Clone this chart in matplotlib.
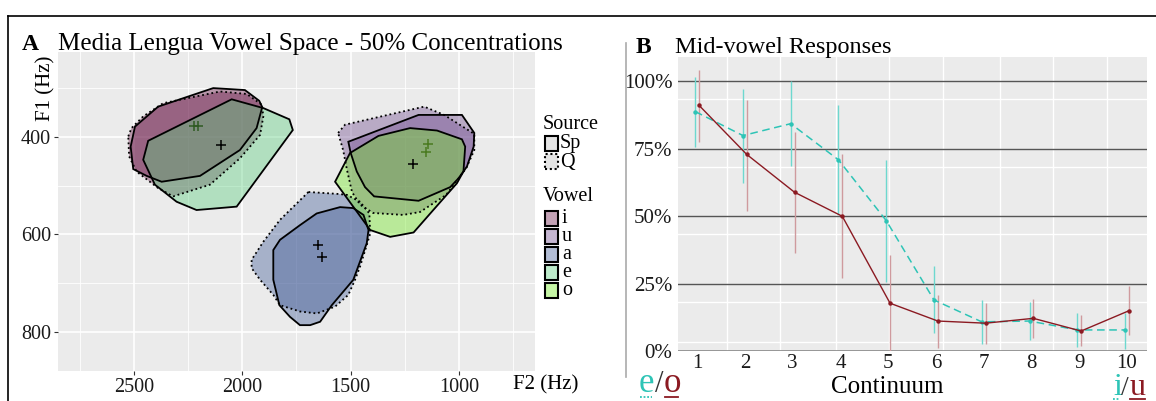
import numpy as np
import matplotlib.pyplot as plt
from matplotlib.patches import Polygon, Rectangle
from matplotlib.lines import Line2D

plt.rcParams['font.family'] = ['Liberation Serif', 'DejaVu Serif']

W, H = 1156, 401

# ---- panel A: vowel space polygons (F2, F1 in Hz) ----
i_sp_f2 = [2388, 2134, 1988, 1922, 1908, 1934, 2011, 2195, 2372, 2441, 2503, 2515, 2495]
i_sp_f1 = [338, 300, 304, 326, 339, 382, 427, 480, 492, 480, 466, 420, 379]
i_q_f2 = [2526, 2511, 2457, 2365, 2103, 1980, 1910, 1903, 1918, 2011, 2149, 2319, 2388, 2488, 2522]
i_q_f1 = [399, 382, 358, 331, 307, 312, 334, 358, 396, 444, 498, 522, 505, 471, 440]
e_sp_f2 = [2434, 2049, 1903, 1783, 1767, 2026, 2211, 2303, 2403, 2457]
e_sp_f1 = [408, 323, 341, 364, 386, 543, 550, 533, 498, 447]
u_sp_f2 = [1511, 1187, 987, 930, 933, 964, 1003, 1041, 1187, 1392, 1434, 1472, 1500]
u_sp_f1 = [410, 355, 355, 392, 420, 461, 485, 503, 531, 522, 503, 471, 433]
u_q_f2 = [1558, 1526, 1161, 1069, 930, 930, 967, 1060, 1180, 1258, 1397, 1457, 1494, 1517, 1535]
u_q_f1 = [392, 375, 338, 355, 394, 427, 464, 519, 554, 560, 556, 539, 513, 468, 427]
o_sp_f2 = [1503, 1372, 1226, 1102, 987, 972, 980, 1010, 1133, 1210, 1318, 1410, 1572]
o_sp_f1 = [433, 398, 382, 387, 405, 420, 471, 495, 557, 596, 605, 591, 492]
a_q_f2 = [1695, 1558, 1517, 1457, 1414, 1410, 1426, 1457, 1480, 1511, 1572, 1656, 1734,
          1826, 1857, 1918, 1957, 1957, 1903, 1826]
a_q_f1 = [513, 517, 519, 533, 557, 598, 622, 666, 693, 724, 748, 762, 758,
          745, 724, 693, 669, 652, 615, 570]
a_sp_f2 = [1657, 1549, 1488, 1441, 1418, 1426, 1488, 1587, 1641, 1687, 1734, 1780, 1829,
           1857, 1857, 1826, 1734]
a_sp_f1 = [557, 544, 546, 560, 591, 618, 693, 745, 779, 786, 786, 769, 745,
           693, 632, 611, 581]

# vowel means
mean_f2 = [2223, 2205, 2098, 1143, 1152, 1212, 1650, 1632]
mean_f1 = [377, 377, 416, 414, 431, 455, 622, 646]
mean_col = ['#2f5a22', '#2f5a22', 'black', '#4a7a20', '#4a7a20', 'black', 'black', 'black']

vowels = ['i', 'u', 'a', 'e', 'o']
vowel_cols = {'i': '#6a1848', 'u': '#6e4a8e', 'a': '#405a96', 'e': '#5ccf7f', 'o': '#6ee61e'}

# ---- panel B: mid-vowel responses ----
cont = np.arange(1, 11)
front_m = [0.887, 0.798, 0.842, 0.708, 0.483, 0.189, 0.108, 0.111, 0.078, 0.078]
front_lo = [0.757, 0.621, 0.687, 0.507, 0.256, 0.066, 0.025, 0.040, 0.015, 0.006]
front_hi = [1.015, 0.972, 1.0, 0.91, 0.708, 0.316, 0.188, 0.182, 0.139, 0.142]
back_m = [0.910, 0.728, 0.588, 0.499, 0.177, 0.111, 0.103, 0.121, 0.074, 0.149]
back_lo = [0.773, 0.52, 0.363, 0.269, 0.0, 0.01, 0.025, 0.05, 0.019, 0.058]
back_hi = [1.04, 0.928, 0.813, 0.728, 0.355, 0.208, 0.179, 0.192, 0.134, 0.239]
pct_ticks = [0, 0.25, 0.5, 0.75, 1.0]
pct_labels = ['0%', '25%', '50%', '75%', '100%']

teal = '#2ec4b6'
red = '#8b1a22'


def fx(px):
    return px / W


def fy(py):
    return 1 - py / H


fig = plt.figure(figsize=(W / 100, H / 100), dpi=100)

# frame lines of the figure
fig.add_artist(Line2D([fx(7.5), 1], [fy(15.5), fy(15.5)], color='black', lw=1.2))
fig.add_artist(Line2D([fx(7.5), fx(7.5)], [fy(15.5), 0], color='black', lw=1.2))

# ================= panel A =================
axA = fig.add_axes([fx(58), fy(371), fx(535) - fx(58), fy(52) - fy(371)])
axA.set_facecolor('#ebebeb')
axA.set_xlim(2850, 650)
axA.set_ylim(880, 226)
for v in [2750, 2250, 1750, 1250, 750]:
    axA.axvline(v, color='white', lw=0.6, zorder=0)
for v in [300, 500, 700]:
    axA.axhline(v, color='white', lw=0.6, zorder=0)
for v in [2500, 2000, 1500, 1000]:
    axA.axvline(v, color='white', lw=1.2, zorder=0)
for v in [400, 600, 800]:
    axA.axhline(v, color='white', lw=1.2, zorder=0)

polys = [
    ('i', 'Sp', i_sp_f2, i_sp_f1),
    ('i', 'Q', i_q_f2, i_q_f1),
    ('u', 'Sp', u_sp_f2, u_sp_f1),
    ('u', 'Q', u_q_f2, u_q_f1),
    ('a', 'Q', a_q_f2, a_q_f1),
    ('a', 'Sp', a_sp_f2, a_sp_f1),
    ('e', 'Sp', e_sp_f2, e_sp_f1),
    ('o', 'Sp', o_sp_f2, o_sp_f1),
]
for vw, src, xs, ys in polys:
    ls = '-' if src == 'Sp' else (0, (1, 1.6))
    axA.add_patch(Polygon(np.column_stack([xs, ys]), closed=True,
                          facecolor=vowel_cols[vw], alpha=0.4, edgecolor='none', zorder=2))
    axA.add_patch(Polygon(np.column_stack([xs, ys]), closed=True, fill=False,
                          edgecolor='black', lw=1.3, linestyle=ls, zorder=3))

axA.scatter(mean_f2, mean_f1, marker='+', s=55, c=mean_col, linewidths=1.1, zorder=4)

axA.set_xticks([2500, 2000, 1500, 1000])
axA.set_yticks([400, 600, 800])
axA.tick_params(labelsize=14.5, length=3, width=0.8, color='#333333',
                labelcolor='#1a1a1a', pad=2)
for s in axA.spines.values():
    s.set_visible(False)

fig.text(fx(22), fy(50), 'A', fontsize=17, fontweight='bold', va='baseline')
fig.text(fx(58), fy(50), 'Media Lengua Vowel Space - 50% Concentrations', fontsize=18,
         va='baseline')
fig.text(fx(46), fy(56), 'F1 (Hz)', fontsize=15, rotation=90, ha='center', va='top')
fig.text(fx(578), fy(389), 'F2 (Hz)', fontsize=15, ha='right', va='baseline')

# legend of panel A
def key(py, face, ls):
    fig.add_artist(Rectangle((fx(545), fy(py + 8)), fx(13), 15 / H, facecolor=face,
                             edgecolor='black', lw=1.5, linestyle=ls))

fig.text(fx(543), fy(129), 'Source', fontsize=14.5, va='baseline')
key(143, '#e4e4e4', '-')
fig.text(fx(560), fy(148), 'Sp', fontsize=14.5, va='baseline')
key(161, '#e4e4e4', (0, (1, 1.3)))
fig.text(fx(560), fy(167), 'Q', fontsize=14.5, va='baseline')
fig.text(fx(543), fy(201), 'Vowel', fontsize=14.5, va='baseline')
for k, vw in enumerate(vowels):
    py = 218 + k * 18
    fc = plt.matplotlib.colors.to_rgba(vowel_cols[vw], 0.4)
    key(py, fc, '-')
    fig.text(fx(562), fy(py + 5), vw, fontsize=14.5, va='baseline')

# ================= panel B =================
axB = fig.add_axes([fx(678), fy(351), fx(1147) - fx(678), fy(57) - fy(351)])
axB.set_facecolor('#ebebeb')
axB.set_xlim(0.6, 10.42)
axB.set_ylim(0, 1.089)
for v in [1.63, 2.74, 3.9, 5.02, 6.15, 7.34, 8.45, 9.58]:
    axB.axvline(v, color='white', lw=1.0, zorder=0)
for v in [0.035, 0.181, 0.433, 0.681, 0.933]:
    axB.axhline(v, color='white', lw=1.0, zorder=0)
for v in pct_ticks[1:]:
    axB.axhline(v, color='#555555', lw=1.0, zorder=1)
axB.axhline(0, color='#888888', lw=1.2, zorder=1)

xf = cont - 0.04
xb = cont + 0.04
axB.vlines(xf, front_lo, front_hi, color='#6dd8cf', lw=1.0, zorder=2)
axB.vlines(xb, back_lo, back_hi, color='#cf9a9e', lw=1.0, zorder=2)
axB.plot(xf, front_m, color=teal, lw=1.1, ls=(0, (5, 3)), marker='o', ms=2.2, zorder=3)
axB.plot(xb, back_m, color=red, lw=1.0, marker='o', ms=2.2, zorder=3)

axB.set_xticks(cont)
axB.set_yticks(pct_ticks)
axB.set_yticklabels(pct_labels)
axB.tick_params(labelsize=15, length=0, pad=4, labelcolor='#1a1a1a')
axB.tick_params(axis='x', pad=2)
for s in axB.spines.values():
    s.set_visible(False)

fig.add_artist(Line2D([fx(626), fx(626)], [fy(43), fy(377)], color='#aaaaaa', lw=1.2))
fig.text(fx(636), fy(53), 'B', fontsize=17, fontweight='bold', va='baseline')
fig.text(fx(675), fy(53), 'Mid-vowel Responses', fontsize=17.5, va='baseline')
fig.text(fx(887), fy(393), 'Continuum', fontsize=18, ha='center', va='baseline')

# e/o and i/u end labels
fig.text(fx(639), fy(392), 'e', fontsize=25, color=teal, va='baseline')
fig.text(fx(655), fy(392), '/', fontsize=22, color='#333333', va='baseline')
fig.text(fx(664), fy(392), 'o', fontsize=25, color=red, va='baseline')
fig.add_artist(Line2D([fx(640), fx(652)], [fy(397), fy(397)], color=teal, lw=1.3, ls=(0, (1, 1))))
fig.add_artist(Line2D([fx(665), fx(678)], [fy(397), fy(397)], color=red, lw=1.3))

fig.text(fx(1113), fy(395), 'i', fontsize=23, color=teal, va='baseline')
fig.text(fx(1121), fy(395), '/', fontsize=20, color='#333333', va='baseline')
fig.text(fx(1130), fy(395), 'u', fontsize=23, color=red, va='baseline')
fig.add_artist(Line2D([fx(1113), fx(1120)], [fy(398.5), fy(398.5)], color=teal, lw=1.3, ls=(0, (1, 1))))
fig.add_artist(Line2D([fx(1130), fx(1145)], [fy(398.5), fy(398.5)], color=red, lw=1.3))

fig.savefig('out.png', dpi=100)
